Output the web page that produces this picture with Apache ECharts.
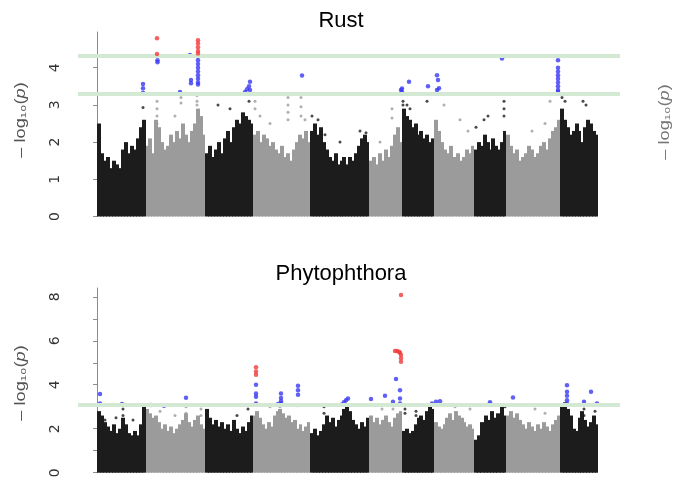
<!DOCTYPE html>
<html>
<head>
<meta charset="utf-8">
<script src="https://cdn.jsdelivr.net/npm/echarts@6/dist/echarts.min.js"></script>
<style>
  html, body { margin: 0; padding: 0; background: #fff; }
  #chart { width: 682px; height: 481px; }
</style>
</head>
<body>
<div id="chart"></div>
<script>
// chromosome boundaries along the genome (cumulative position)
const chromBounds = [0, 48.5, 108, 155.5, 213, 272, 305, 337, 377, 409, 463, 501]

// dense part of each chromosome: top of the point cloud, left to right (-log10 p)
const rustDense = [
  [2.5, 1.7, 1.5, 1.6, 1.3, 1.5, 1.4, 1.3, 1.8, 2.0, 1.7, 1.9, 1.8, 2.1, 2.4, 2.6],
  [1.9, 2.1, 1.7, 2.6, 2.4, 2.0, 1.8, 1.9, 2.2, 2.0, 2.3, 2.1, 2.5, 2.2, 2.0, 2.3, 2.5, 2.9, 2.7, 2.2],
  [1.7, 1.9, 1.6, 1.8, 2.0, 1.7, 2.1, 2.3, 2.0, 2.4, 2.6, 2.5, 2.8, 2.7, 2.6, 2.5],
  [2.2, 2.3, 2.0, 2.2, 2.1, 1.9, 2.0, 1.8, 1.7, 1.9, 1.6, 1.7, 1.5, 1.8, 2.0, 2.2, 2.1, 2.3, 2.0],
  [2.3, 2.5, 2.2, 2.4, 2.0, 1.8, 1.6, 1.5, 1.7, 1.4, 1.5, 1.6, 1.4, 1.6, 1.5, 1.7, 1.9, 2.1, 2.2, 2.0],
  [1.5, 1.6, 1.4, 1.7, 1.5, 1.8, 1.6, 1.9, 2.2, 2.4, 2.0],
  [2.9, 2.7, 2.6, 2.4, 2.5, 2.2, 2.3, 2.1, 2.2, 2.0, 2.1],
  [2.6, 2.3, 2.0, 1.8, 1.7, 1.9, 1.6, 1.7, 1.5, 1.6, 1.8, 1.7, 1.9],
  [1.8, 2.0, 1.9, 2.2, 2.0, 1.8, 2.1, 1.9, 1.8, 2.0, 2.3],
  [2.2, 1.9, 1.7, 1.8, 1.5, 1.6, 1.7, 1.9, 1.8, 1.6, 1.7, 1.9, 2.0, 1.8, 2.1, 2.3, 2.4, 2.6],
  [2.9, 2.6, 2.4, 2.2, 2.3, 2.5, 2.3, 2.0, 2.4, 2.6, 2.5, 2.3, 2.2]
]
const phytoDense = [
  [2.8, 2.6, 2.3, 2.1, 1.9, 2.2, 1.8, 2.0, 2.5, 2.2, 1.8, 1.7, 1.9, 1.7, 2.2, 3.0],
  [2.9, 2.7, 2.5, 2.6, 2.3, 2.0, 2.2, 1.9, 2.1, 1.8, 2.0, 2.2, 2.4, 2.7, 2.3, 2.1, 2.4, 2.6, 2.2, 2.0],
  [2.9, 2.5, 2.2, 2.4, 2.1, 2.3, 2.0, 2.2, 1.9, 2.4, 2.0, 1.8, 2.1, 1.9, 2.3, 2.6],
  [2.6, 2.8, 2.5, 2.2, 2.0, 2.3, 2.1, 2.6, 2.8, 2.9, 2.7, 2.5, 2.6, 2.3, 2.4, 2.0, 2.2, 1.9, 2.1, 2.3],
  [1.8, 2.0, 1.7, 1.9, 2.2, 2.6, 2.3, 2.5, 2.1, 2.4, 2.6, 2.9, 3.0, 2.8, 2.4, 2.2, 2.0, 2.3, 2.1, 2.5],
  [2.6, 2.3, 2.5, 2.2, 2.4, 2.6, 2.3, 2.1, 2.5, 2.7, 2.8],
  [1.9, 2.0, 1.8, 1.9, 2.2, 2.5, 2.6, 2.4, 2.8, 3.0, 2.9],
  [2.3, 2.1, 2.0, 2.2, 2.5, 2.7, 2.4, 2.8, 2.6, 2.5, 2.3, 2.1, 2.2, 2.0],
  [1.5, 1.7, 2.3, 2.6, 2.4, 2.8, 2.5, 2.7, 3.0, 2.6],
  [2.6, 2.8, 2.5, 2.7, 2.4, 2.2, 2.0, 2.3, 2.1, 1.9, 2.2, 2.0, 2.3, 2.1, 1.9, 2.2, 2.4, 2.6],
  [3.0, 3.2, 2.9, 2.6, 2.0, 1.9, 2.5, 2.8, 2.4, 2.1, 2.3, 2.6, 2.2]
]

// scattered markers above the dense cloud: [position, -log10 p]
const rustSparse = [
  [46, 2.93], [60, 3.1], [60, 2.9], [60, 2.7], [60, 2.5], [78, 2.7], [84, 3.2], [84, 3.05],
  [100, 3.25], [100, 3.1], [100, 3.0], [121, 3.0], [133, 2.9], [152, 3.1], [158, 3.1], [158, 2.9],
  [163, 2.7], [173, 2.5], [191, 3.2], [191, 3.0], [191, 2.8], [191, 2.6], [204, 3.2], [204, 2.95],
  [204, 2.7], [208, 2.6], [215, 2.7], [221, 2.6], [228, 2.2], [243, 2.0], [263, 2.3], [269, 2.25],
  [283, 2.0], [295, 2.9], [295, 2.65], [306, 3.1], [306, 3.0], [310, 3.0], [313, 2.9], [330, 3.1],
  [347, 3.0], [363, 2.6], [371, 2.3], [379, 2.4], [387, 2.6], [391, 2.7], [407, 3.1], [407, 2.9],
  [407, 2.7], [435, 2.3], [448, 2.5], [453, 3.1], [465, 3.2], [468, 3.1], [486, 3.1], [489, 3.0]
]
const rustBlue = [
  [46, 3.56], [46, 3.45], [46, 3.33], [60.5, 4.2], [60.5, 4.15], [83, 3.35], [93, 4.34], [94, 3.67],
  [94, 3.58], [101, 4.3], [101, 4.2], [101, 4.1], [101, 4.0], [101, 3.9], [101, 3.8], [101, 3.7],
  [101, 3.6], [101, 3.55], [153, 3.62], [152, 3.5], [150, 3.42], [148, 3.35], [153, 3.4], [205, 3.79],
  [305, 3.44], [305, 3.35], [304, 3.4], [312, 3.62], [331, 3.5], [340, 3.8], [341, 3.67], [340, 3.4],
  [342, 3.45], [405, 4.25], [461, 4.2], [461, 4.0], [461, 3.9], [461, 3.8], [461, 3.7], [461, 3.6],
  [461, 3.5], [461, 3.4], [461, 3.35]
]
const rustRed = [
  [60, 4.79], [60, 4.37], [101, 4.74], [101, 4.65], [101, 4.55], [101, 4.45], [101, 4.38]
]
const phytoSparse = [
  [26, 2.9], [26, 2.6], [8, 2.4], [19, 2.5], [36, 2.4], [63, 2.8], [89, 3.0], [89, 2.7],
  [89, 2.5], [104, 2.9], [104, 2.6], [78, 2.6], [140, 2.6], [151, 2.9], [173, 3.0], [183, 3.0],
  [201, 3.05], [227, 3.0], [227, 2.7], [248, 2.8], [285, 2.9], [296, 2.9], [308, 2.9], [308, 2.7],
  [319, 2.8], [319, 2.6], [358, 3.0], [373, 2.9], [408, 3.0], [438, 2.9], [448, 2.7], [487, 2.9],
  [487, 2.6], [498, 2.8]
]
const phytoBlue = [
  [3, 3.58], [3, 3.15], [25, 3.12], [54, 3.08], [67, 3.05], [89, 3.41], [159, 4.0], [159, 3.6],
  [159, 3.45], [159, 3.15], [184, 3.6], [184, 3.4], [184, 3.25], [184, 3.15], [181, 3.12], [201, 3.95],
  [201, 3.75], [201, 3.55], [245, 3.1], [247, 3.2], [249, 3.3], [251, 3.38], [274, 3.35], [288, 3.5],
  [296, 3.23], [299, 4.26], [303, 3.75], [303, 3.38], [303, 3.15], [335, 3.15], [339, 3.23], [343, 3.25],
  [393, 3.2], [393, 3.1], [416, 3.42], [470, 3.98], [470, 3.68], [470, 3.5], [470, 3.3], [470, 3.15],
  [487, 3.23], [494, 3.68], [500, 3.15]
]
const phytoRed = [
  [159, 4.8], [159, 4.6], [159, 4.45], [298, 5.53], [300, 5.53], [302, 5.5], [303, 5.45],
  [304, 5.35], [304, 5.2], [304, 5.05], [304, 8.08]
]

// significance thresholds
const rustThresholds = [4.32, 3.31]
const phytoThresholds = [3.08]

const BLACK = '#1c1c1c'
const GREY = '#9b9b9b'
const BLUE = '#3838f4'
const RED = '#f03a3a'
const GREEN = '#d3e9d3'

function chromOf(pos) {
  for (let i = 0; i < chromBounds.length - 1; i++) {
    if (pos < chromBounds[i + 1]) return i
  }
  return chromBounds.length - 2
}

// turn per-chromosome heights into [x0, x1, value, chrom] columns
function columns(dense) {
  const out = []
  dense.forEach((vals, c) => {
    const a = chromBounds[c]
    const step = (chromBounds[c + 1] - a) / vals.length
    vals.forEach((v, i) => out.push([a + i * step, a + (i + 1) * step, v, c]))
  })
  return out
}

function renderColumn(params, api) {
  const top = api.coord([api.value(0), api.value(2)])
  const base = api.coord([api.value(1), 0])
  const last = api.value(1) >= chromBounds[api.value(3) + 1] - 0.01
  return {
    type: 'rect',
    shape: {
      x: Math.round(top[0]),
      y: top[1],
      width: Math.round(base[0]) - Math.round(top[0]) + (last ? 0 : 1),
      height: base[1] - top[1]
    },
    style: { fill: api.value(3) % 2 ? GREY : BLACK }
  }
}

const nameFont = '14px "Liberation Sans"'
const yName = '{a|– log₁₀(}{i|p}{a|)}'

function yAxis(gridIndex, max, ticks, labels) {
  return {
    type: 'value',
    gridIndex: gridIndex,
    min: 0,
    max: max,
    axisLine: { show: true, lineStyle: { color: '#8c8c8c', width: 1 } },
    axisTick: { show: true, length: 4, customValues: ticks, lineStyle: { color: '#8c8c8c' } },
    axisLabel: {
      customValues: labels,
      rotate: 90,
      margin: 16,
      color: '#333',
      fontSize: 14,
      fontFamily: 'DejaVu Sans'
    },
    splitLine: { show: false }
  }
}

function xAxis(gridIndex) {
  return { type: 'value', gridIndex: gridIndex, min: -19, max: 523, show: false }
}

// rotated y-axis title, stretched along its length like the original figure
function nameText(x, y, color) {
  return {
    type: 'text',
    x: x,
    y: y,
    rotation: Math.PI / 2,
    scaleX: 1.3,
    style: {
      text: yName,
      rich: {
        a: { font: nameFont, fill: color },
        i: { font: 'italic ' + nameFont, fill: color }
      },
      align: 'center',
      verticalAlign: 'middle'
    }
  }
}

function panelSeries(idx, dense, sparse, blue, red, thresholds) {
  return [
    {
      type: 'line',
      xAxisIndex: idx,
      yAxisIndex: idx,
      data: [],
      silent: true,
      z: 1,
      markLine: {
        symbol: 'none',
        silent: true,
        label: { show: false },
        lineStyle: { color: GREEN, width: 4, type: 'solid' },
        data: thresholds.map(t => ({ yAxis: t }))
      }
    },
    {
      type: 'custom',
      xAxisIndex: idx,
      yAxisIndex: idx,
      renderItem: renderColumn,
      encode: { x: [0, 1], y: 2 },
      data: columns(dense),
      z: 2
    },
    {
      type: 'scatter',
      xAxisIndex: idx,
      yAxisIndex: idx,
      symbolSize: 3,
      data: sparse,
      itemStyle: { color: p => (chromOf(p.value[0]) % 2 ? GREY : BLACK) },
      z: 3
    },
    {
      type: 'scatter',
      xAxisIndex: idx,
      yAxisIndex: idx,
      symbolSize: 4.5,
      data: blue,
      itemStyle: { color: BLUE },
      z: 4
    },
    {
      type: 'scatter',
      xAxisIndex: idx,
      yAxisIndex: idx,
      symbolSize: 4.5,
      data: red,
      itemStyle: { color: RED },
      z: 5
    }
  ]
}

const myChart = echarts.init(document.getElementById('chart'))
const option = {
  animation: false,
  backgroundColor: '#fff',
  title: [
    { text: 'Rust', left: 'center', top: 10, padding: 0, textStyle: { fontSize: 22, fontWeight: 'normal', color: '#000', fontFamily: 'Liberation Sans' } },
    { text: 'Phytophthora', left: 'center', top: 263, padding: 0, textStyle: { fontSize: 22, fontWeight: 'normal', color: '#000', fontFamily: 'Liberation Sans' } }
  ],
  grid: [
    { left: 78, top: 32, width: 542, height: 184.5 },
    { left: 78, top: 288, width: 542, height: 184.7 }
  ],
  xAxis: [xAxis(0), xAxis(1)],
  yAxis: [
    yAxis(0, 4.96, [0, 1, 2, 3, 4], [0, 1, 2, 3, 4]),
    yAxis(1, 8.4, [0, 1, 2, 3, 4, 5, 6, 7, 8], [0, 2, 4, 6, 8])
  ],
  graphic: [
    nameText(21, 120, '#555'),
    nameText(21, 383, '#555'),
    nameText(665, 122, '#777')
  ],
  series: [].concat(
    panelSeries(0, rustDense, rustSparse, rustBlue, rustRed, rustThresholds),
    panelSeries(1, phytoDense, phytoSparse, phytoBlue, phytoRed, phytoThresholds)
  )
}
myChart.setOption(option)
</script>
</body>
</html>
